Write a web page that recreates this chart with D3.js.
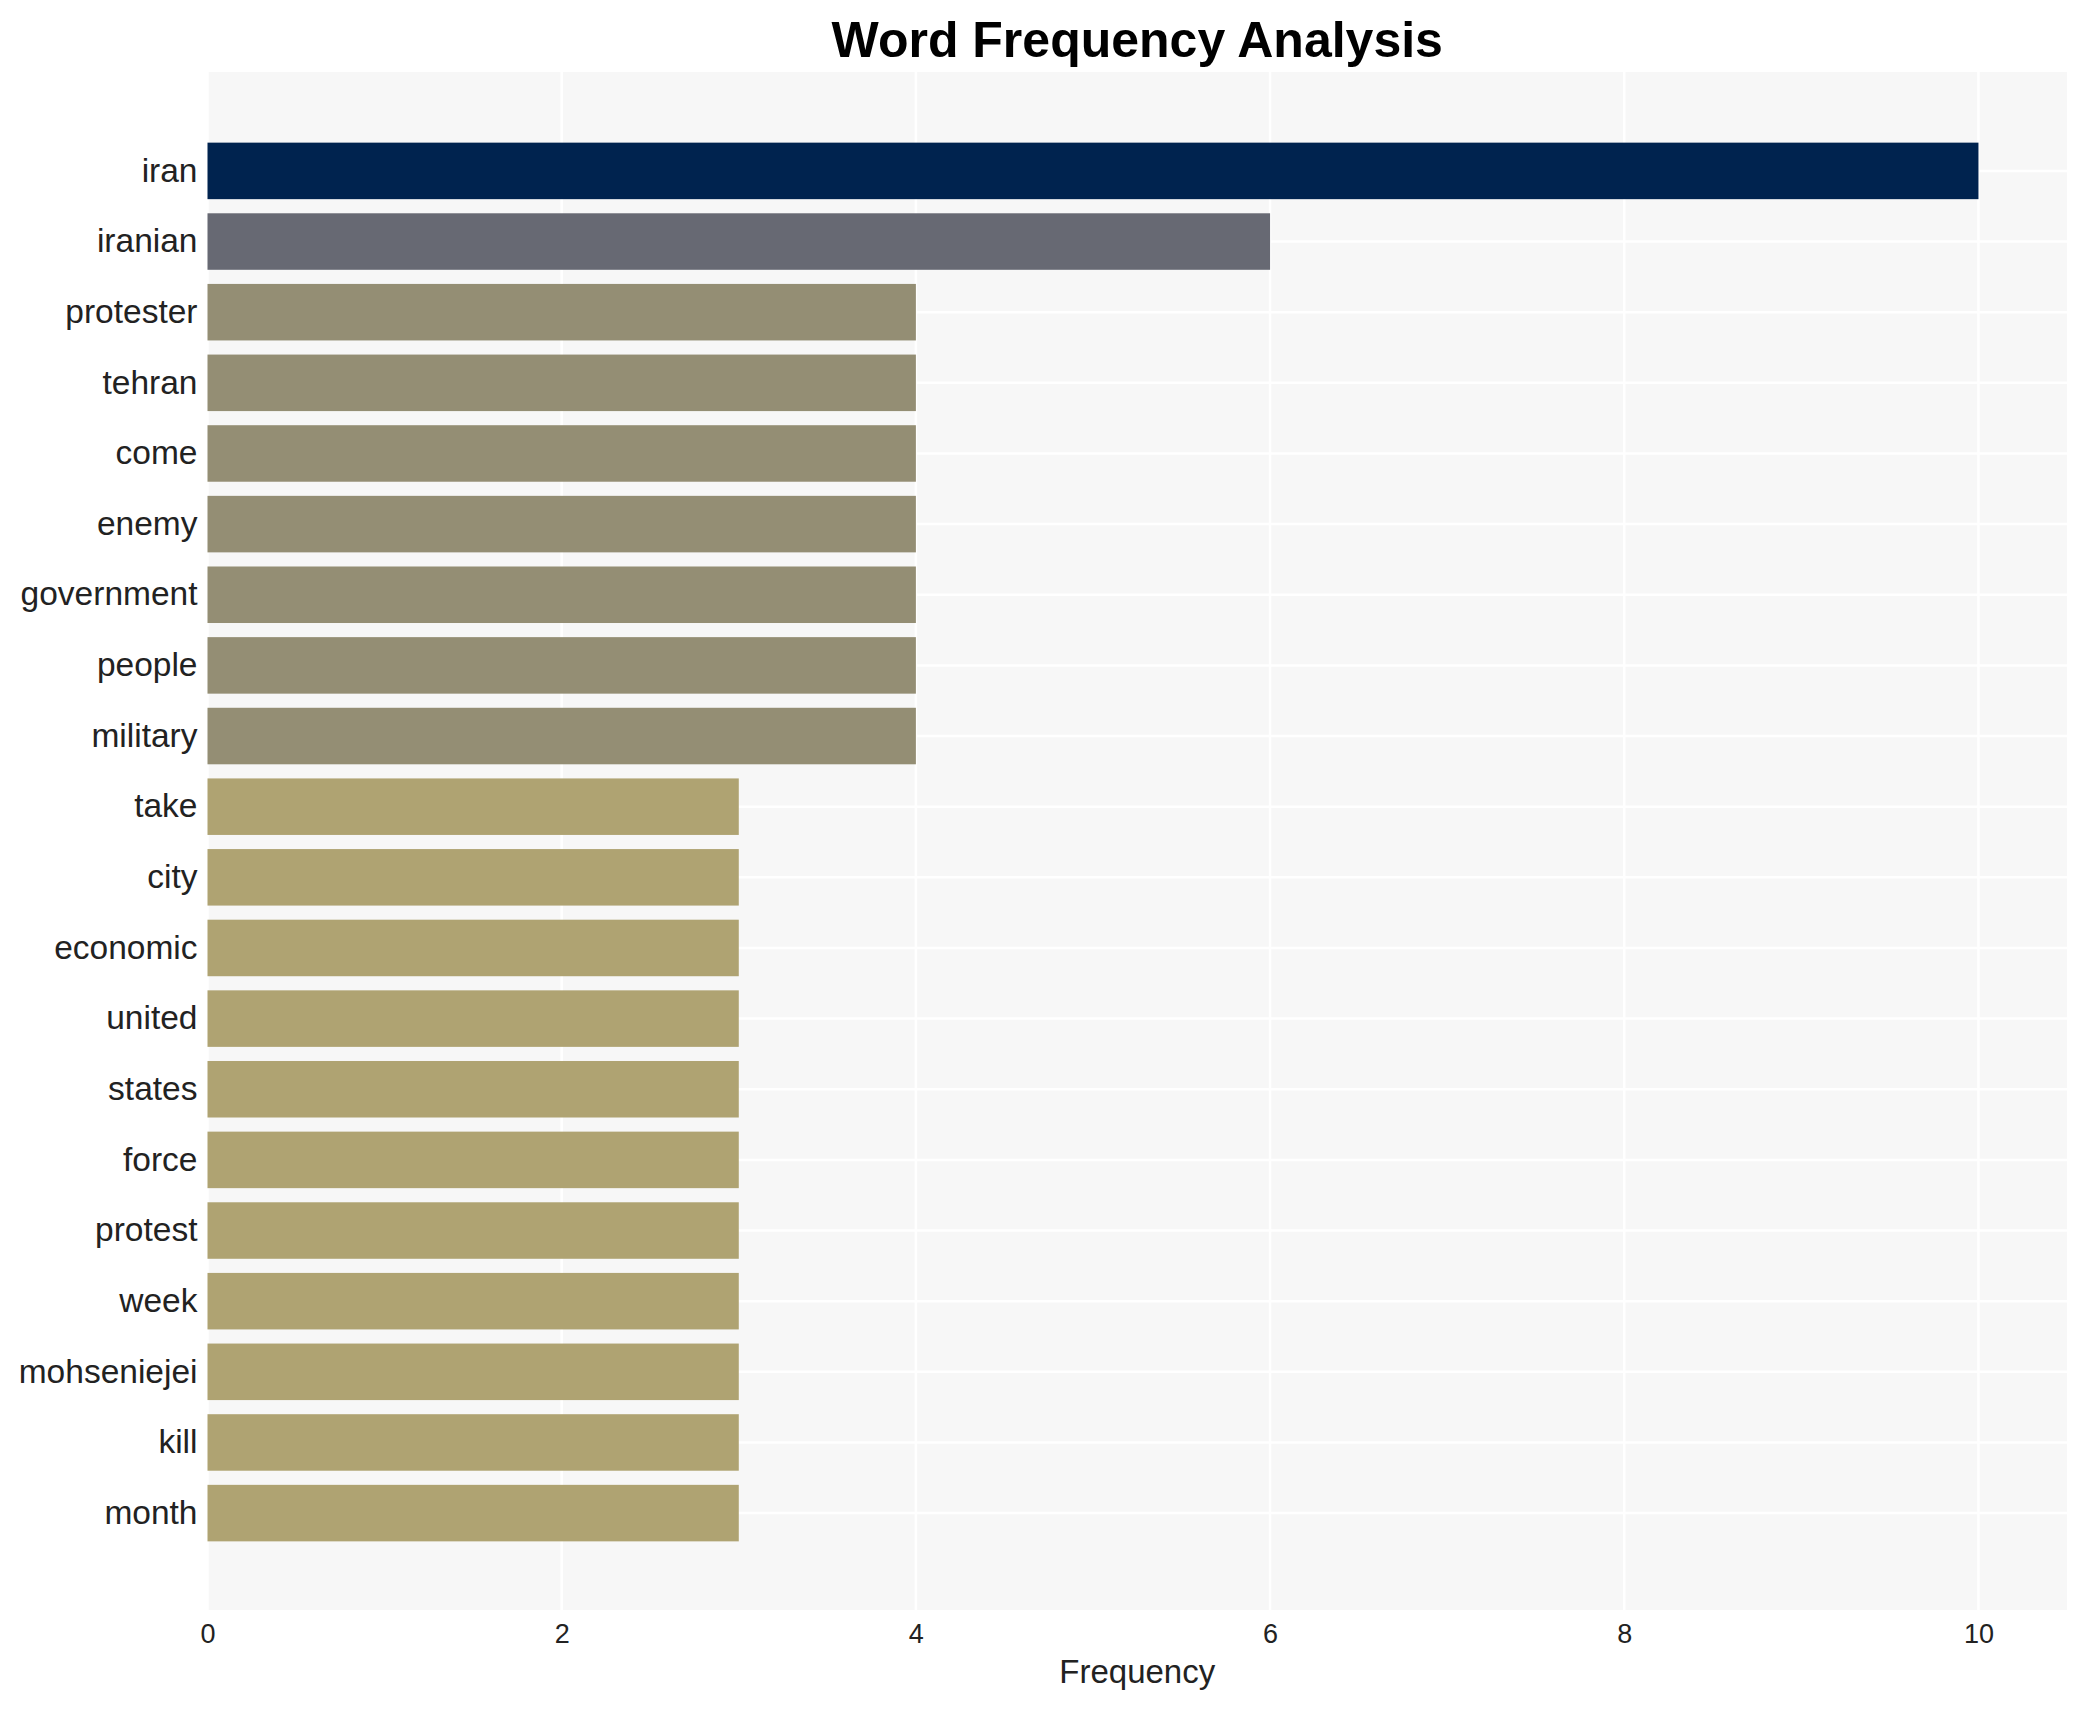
<!DOCTYPE html>
<html>
<head>
<meta charset="utf-8">
<script src="https://cdn.jsdelivr.net/npm/d3@7"></script>
<style>
  html, body { margin: 0; padding: 0; background: #ffffff; }
  svg { display: block; font-family: "Liberation Sans", Arial, sans-serif; }
</style>
</head>
<body>
<svg id="chart" width="2087" height="1710"></svg>
<script>
const words = ["iran","iranian","protester","tehran","come","enemy","government","people","military","take","city","economic","united","states","force","protest","week","mohseniejei","kill","month"];
const counts = [10,6,4,4,4,4,4,4,4,3,3,3,3,3,3,3,3,3,3,3];
const barColors = ["#00234f","#676973","#948e74","#948e74","#948e74","#948e74","#948e74","#948e74","#948e74","#afa372","#afa372","#afa372","#afa372","#afa372","#afa372","#afa372","#afa372","#afa372","#afa372","#afa372"];
const xTicks = [0,2,4,6,8,10];
const title = "Word Frequency Analysis";
const xTitle = "Frequency";

const W = 2087, H = 1710;
const panel = {left: 207.5, right: 2067, top: 72, bottom: 1610};
const svg = d3.select("#chart");

const x = d3.scaleLinear().domain([0, 10.5]).range([panel.left, panel.right]);
const y = d3.scaleBand().domain(words).range([72, 1612]).paddingInner(0.2).paddingOuter(1);

// panel
svg.append("rect").attr("x", panel.left).attr("y", panel.top)
  .attr("width", panel.right - panel.left).attr("height", panel.bottom - panel.top)
  .attr("fill", "#f7f7f7");

// grid
const g = svg.append("g");
g.selectAll("line.v").data(xTicks).join("line")
  .attr("x1", d => x(d)).attr("x2", d => x(d))
  .attr("y1", panel.top).attr("y2", panel.bottom)
  .attr("stroke", "#ffffff").attr("stroke-width", 2.5);
g.selectAll("line.h").data(words).join("line")
  .attr("x1", panel.left).attr("x2", panel.right)
  .attr("y1", d => y(d) + y.bandwidth()/2).attr("y2", d => y(d) + y.bandwidth()/2)
  .attr("stroke", "#ffffff").attr("stroke-width", 2.5);

// bars
svg.append("g").selectAll("rect").data(words).join("rect")
  .attr("x", x(0))
  .attr("y", d => y(d))
  .attr("width", (d, i) => x(counts[i]) - x(0))
  .attr("height", y.bandwidth())
  .attr("fill", (d, i) => barColors[i]);

// y axis labels
const yAxis = d3.axisLeft(y).tickSize(0).tickPadding(10);
const ya = svg.append("g").attr("transform", `translate(${x(0)},0)`).call(yAxis);
ya.select(".domain").remove();
ya.selectAll("text").attr("font-size", 33.5).attr("fill", "#222222")
  .attr("font-family", "'Liberation Sans', Arial, sans-serif");

// x axis
const xAxis = d3.axisBottom(x).tickValues(xTicks).tickSize(0).tickPadding(14).tickFormat(d3.format("d"));
const xa = svg.append("g").attr("transform", `translate(0,${panel.bottom})`).call(xAxis);
xa.select(".domain").remove();
xa.selectAll("text").attr("font-size", 27).attr("fill", "#222222")
  .attr("font-family", "'Liberation Sans', Arial, sans-serif");

// x title
svg.append("text").attr("x", (panel.left + panel.right)/2).attr("y", 1683)
  .attr("text-anchor", "middle").attr("font-size", 33).attr("fill", "#222222")
  .text(xTitle);

// title
svg.append("text").attr("x", (panel.left + panel.right)/2).attr("y", 57)
  .attr("text-anchor", "middle").attr("font-size", 50).attr("font-weight", "bold").attr("fill", "#000")
  .text(title);
</script>
</body>
</html>
